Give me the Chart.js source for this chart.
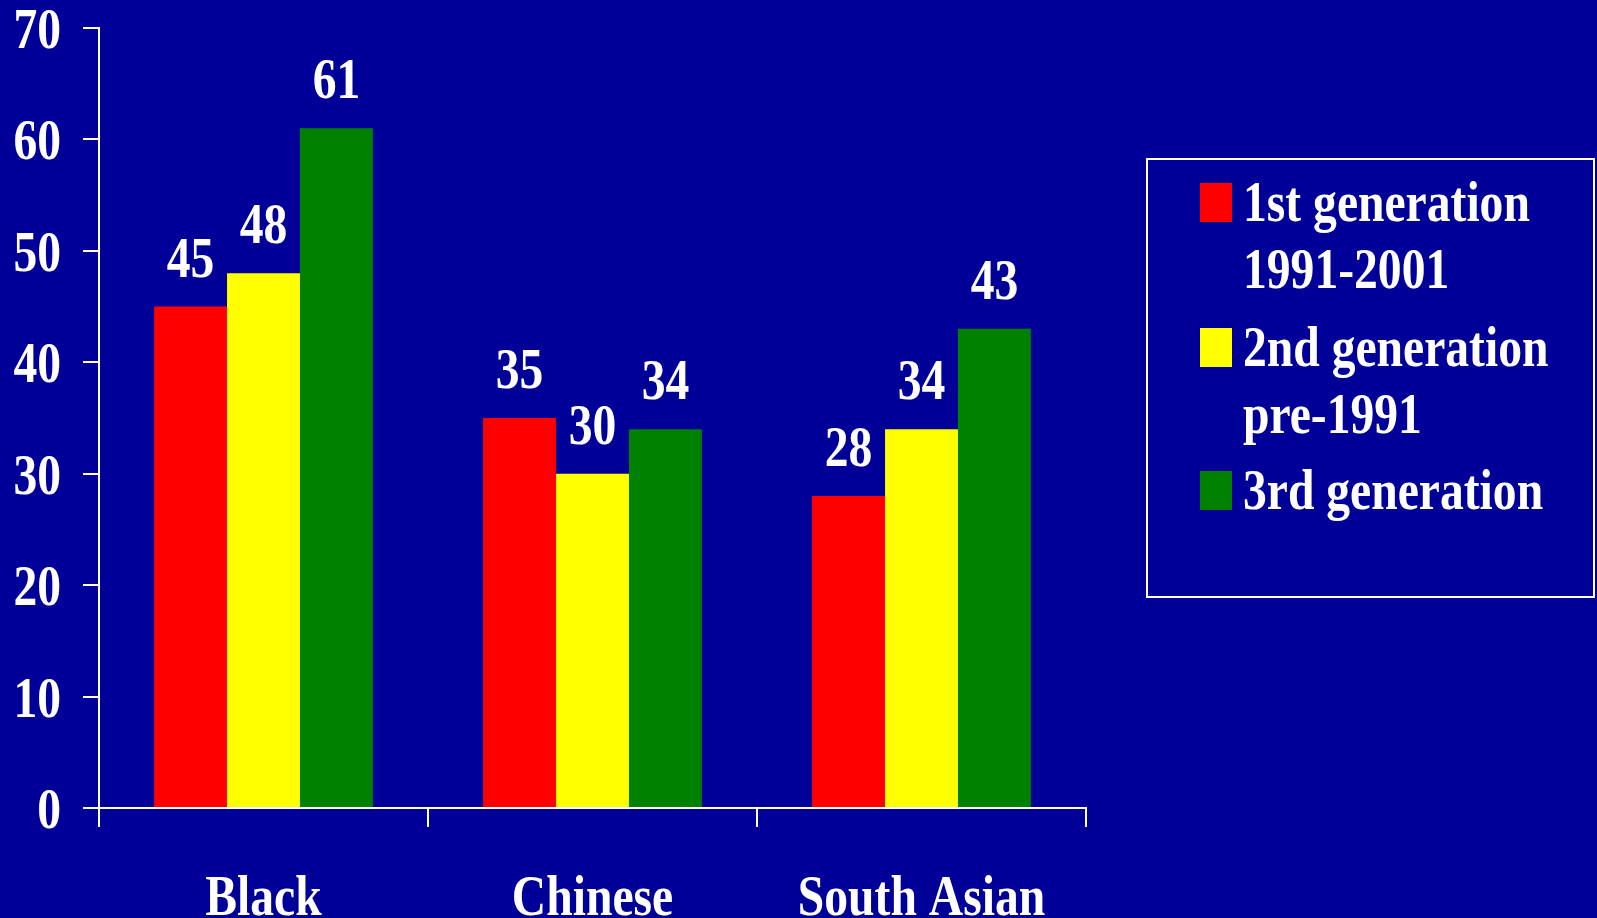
<!DOCTYPE html>
<html>
<head>
<meta charset="utf-8">
<title>Generations chart</title>
<script src="https://cdn.jsdelivr.net/npm/chart.js@4.4.1/dist/chart.umd.min.js"></script>
<style>
  html, body { margin: 0; padding: 0; background: #000099; overflow: hidden; }
  #wrap { width: 1597px; height: 918px; }
</style>
</head>
<body>
<div id="wrap"><canvas id="genChart" width="1597" height="918"></canvas></div>
<script>
// -- DATA --
const categories = ["Black", "Chinese", "South Asian"];
const firstGen = [45, 35, 28];
const secondGen = [48, 30, 34];
const thirdGen = [61, 34, 43];
const yTicks = [0, 10, 20, 30, 40, 50, 60, 70];
const legendLines = [
  ["1st generation", "1991-2001"],
  ["2nd generation", "pre-1991"],
  ["3rd generation"],
];
const seriesColors = ["#ff0000", "#ffff00", "#008000"];

// shared text look: bold Times-like, squeezed horizontally
const FONT = "bold 56px 'Liberation Serif', 'Times New Roman', serif";
const SQUEEZE = 0.85;

function squeezedText(ctx, text, x, y, align) {
  ctx.save();
  ctx.font = FONT;
  ctx.fillStyle = "#ffffff";
  ctx.textAlign = align;
  ctx.textBaseline = "alphabetic";
  ctx.translate(x, y);
  ctx.scale(SQUEEZE, 1);
  ctx.fillText(text, 0, 0);
  ctx.restore();
}

// draws tick labels, value labels and the boxed legend
const slideText = {
  id: "slideText",
  beforeDraw(chart) {
    const ctx = chart.ctx;
    ctx.save();
    ctx.fillStyle = "#000099";
    ctx.fillRect(0, 0, chart.width, chart.height);
    ctx.restore();
  },
  afterDraw(chart) {
    const ctx = chart.ctx;
    const yScale = chart.scales.y;
    const xScale = chart.scales.x;

    // y tick labels
    yTicks.forEach((v) => {
      squeezedText(ctx, String(v), 61, yScale.getPixelForValue(v) + 20, "right");
    });

    // category labels
    categories.forEach((c, i) => {
      squeezedText(ctx, c, xScale.getPixelForValue(i), 915, "center");
    });

    // value labels above bars
    chart.data.datasets.forEach((ds, di) => {
      const meta = chart.getDatasetMeta(di);
      meta.data.forEach((bar, i) => {
        squeezedText(ctx, String(ds.data[i]), bar.x, bar.y - 30, "center");
      });
    });

    // legend box
    ctx.save();
    ctx.strokeStyle = "#ffffff";
    ctx.lineWidth = 2;
    ctx.strokeRect(1147, 159, 447, 438);
    ctx.restore();

    const itemTops = [183, 328, 471];
    legendLines.forEach((lines, i) => {
      ctx.save();
      ctx.fillStyle = seriesColors[i];
      ctx.fillRect(1200, itemTops[i], 32, 39);
      ctx.restore();
      lines.forEach((line, li) => {
        squeezedText(ctx, line, 1243, itemTops[i] + 38 + li * 67, "left");
      });
    });
  },
};

document.addEventListener("DOMContentLoaded", function () {
  const chartCtx = document.getElementById("genChart");

  new Chart(chartCtx, {
    type: "bar",
    data: {
      labels: categories,
      datasets: [
        { label: legendLines[0].join(" "), data: firstGen, backgroundColor: seriesColors[0] },
        { label: legendLines[1].join(" "), data: secondGen, backgroundColor: seriesColors[1] },
        { label: legendLines[2].join(" "), data: thirdGen, backgroundColor: seriesColors[2] },
      ],
    },
    options: {
      responsive: false,
      animation: false,
      events: [],
      layout: {
        padding: { left: 83, right: 511, top: 28, bottom: 91 },
      },
      datasets: {
        bar: { categoryPercentage: 0.665, barPercentage: 1.0, borderWidth: 0 },
      },
      plugins: {
        legend: { display: false },
        tooltip: { enabled: false },
      },
      scales: {
        x: {
          ticks: { display: false },
          grid: {
            offset: true,
            drawOnChartArea: false,
            color: "#ffffff",
            lineWidth: 2,
            tickLength: 19,
          },
          border: { color: "#ffffff", width: 2 },
        },
        y: {
          min: 0,
          max: 70,
          ticks: { display: false, stepSize: 10 },
          grid: {
            drawOnChartArea: false,
            color: "#ffffff",
            lineWidth: 2,
            tickLength: 16,
          },
          border: { color: "#ffffff", width: 2 },
        },
      },
    },
    plugins: [slideText],
  });
});
</script>
</body>
</html>
